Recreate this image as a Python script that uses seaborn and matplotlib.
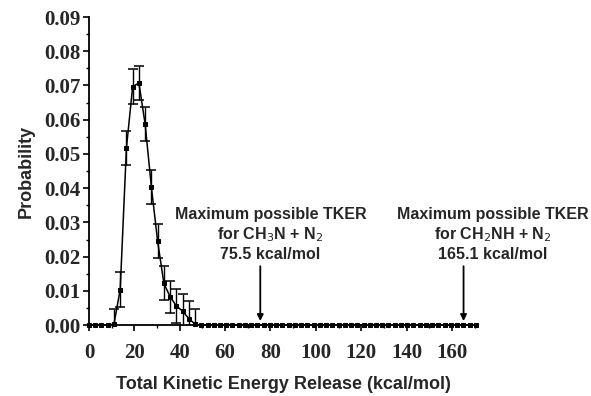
import numpy as np
import pandas as pd
import matplotlib
matplotlib.use("Agg")
import matplotlib.pyplot as plt
import seaborn as sns
from matplotlib.ticker import MultipleLocator

# ---- data ----
step = 2.75
peak_values = [0.0, 0.0, 0.0, 0.0, 0.0003, 0.0104, 0.0518, 0.0697, 0.0707, 0.0587,
               0.0403, 0.0245, 0.0122, 0.0083, 0.0056, 0.0041, 0.0019, 0.0003]
peak_errors = [0.0, 0.0, 0.0, 0.0, 0.0045, 0.005, 0.005, 0.005, 0.005, 0.005,
               0.005, 0.005, 0.005, 0.0047, 0.005, 0.005, 0.005, 0.0045]
n_points = 63
energies = [round(i * step, 2) for i in range(n_points)]
probabilities = peak_values + [0.0] * (n_points - len(peak_values))
errors = peak_errors + [0.0] * (n_points - len(peak_errors))

xticks = [0, 20, 40, 60, 80, 100, 120, 140, 160]
yticks = [0.00, 0.01, 0.02, 0.03, 0.04, 0.05, 0.06, 0.07, 0.08, 0.09]
ann_energies = [75.5, 165.1]
ann_texts = ["Maximum possible TKER\nfor CH$_3$N + N$_2$\n75.5 kcal/mol",
             "Maximum possible TKER\nfor CH$_2$NH + N$_2$\n165.1 kcal/mol"]
ann_text_x = [80, 178]

df = pd.DataFrame({"energy": energies, "prob": probabilities, "err": errors})

sns.set_style("ticks")
fig = plt.figure(figsize=(5.91, 3.96), dpi=100)
ax = fig.add_axes([0.1506, 0.179, 0.807 - 0.1506, 0.957 - 0.179])

sns.lineplot(data=df, x="energy", y="prob", ax=ax, color="black", linewidth=1.1,
             marker="s", markersize=3.3, markeredgecolor="black", clip_on=False, zorder=3)
nz = df[df["err"] > 0]
ax.errorbar(nz["energy"], nz["prob"], yerr=nz["err"], fmt="none", ecolor="black",
            elinewidth=1.0, capsize=3.5, capthick=1.1, zorder=2)

ax.set_xlim(0, 171)
ax.set_ylim(0, 0.09)
ax.set_xticks(xticks)
ax.set_yticks(yticks)
ax.xaxis.set_minor_locator(MultipleLocator(10))
ax.yaxis.set_minor_locator(MultipleLocator(0.005))
ax.set_xticklabels([str(t) for t in xticks], fontfamily="Liberation Serif",
                   fontweight="bold", fontsize=15)
ax.set_yticklabels([f"{t:.2f}" for t in yticks], fontfamily="Liberation Serif",
                   fontweight="bold", fontsize=15)
ax.tick_params(axis="both", which="major", direction="out", length=4, width=1.2,
               color="black")
ax.tick_params(axis="x", which="major", pad=9)
ax.tick_params(axis="y", which="major", pad=2)
ax.tick_params(axis="both", which="minor", direction="out", length=2.5, width=1.0,
               color="black")
for s in ["left", "bottom"]:
    ax.spines[s].set_linewidth(1.3)
    ax.spines[s].set_color("black")
sns.despine(ax=ax)

ax.set_xlabel("Total Kinetic Energy Release (kcal/mol)", fontfamily="Liberation Sans",
              fontweight="bold", fontsize=13, labelpad=9)
ax.set_ylabel("Probability", fontfamily="Liberation Sans", fontweight="bold",
              fontsize=13, labelpad=7)

for e, t, tx in zip(ann_energies, ann_texts, ann_text_x):
    ax.text(tx, 0.0265, t, ha="center", va="center", fontfamily="Liberation Sans",
            fontweight="bold", fontsize=11.5, linespacing=1.25, clip_on=False)
    ax.annotate("", xy=(e, 0.0012), xytext=(e, 0.0172),
                arrowprops=dict(arrowstyle="-|>", color="black", lw=1.3,
                                mutation_scale=9, shrinkA=0, shrinkB=0),
                annotation_clip=False)

fig.savefig("out.png", dpi=100)
